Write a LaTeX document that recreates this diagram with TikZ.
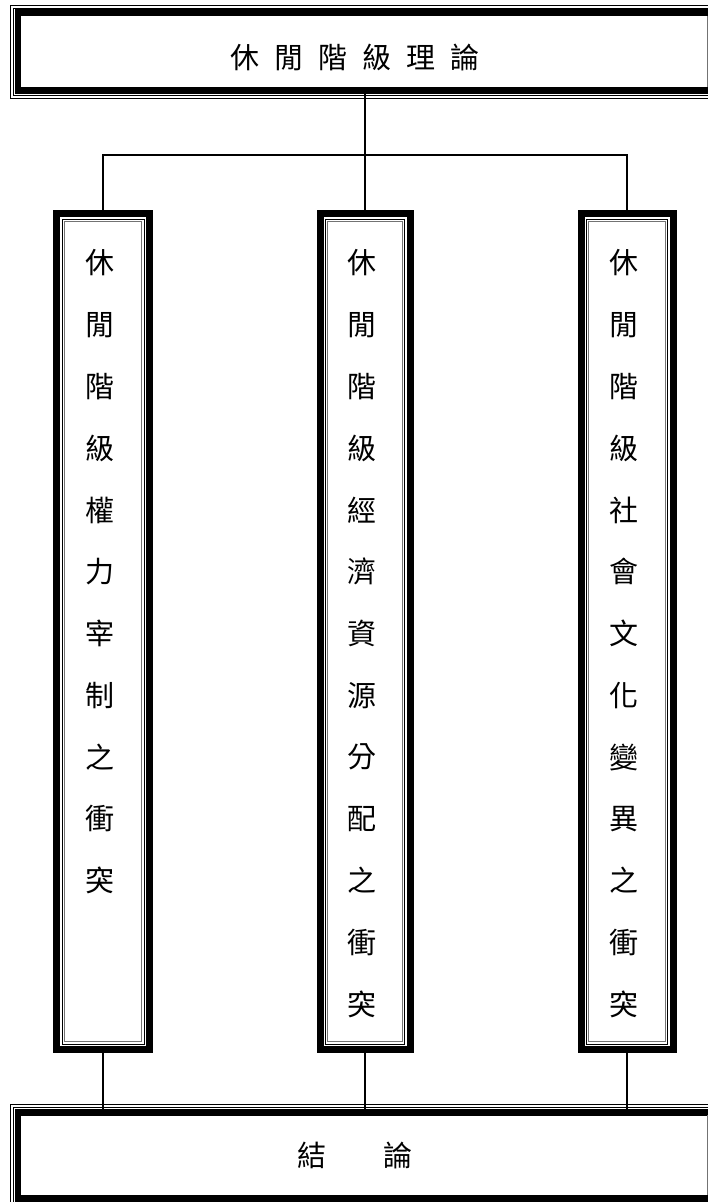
\documentclass[tikz,border=0pt]{standalone}
\usepackage{fontspec}
\newfontfamily\cjk{Noto Sans CJK TC}
\begin{document}
\begin{tikzpicture}[x=1pt,y=-1pt,
  vbox/.style={draw, line width=7pt, inner sep=0pt, outer sep=0pt},
  hbox/.style={draw, line width=6.5pt, inner sep=0pt, outer sep=0pt},
  ch/.style={font=\cjk\fontsize{29}{29}\selectfont, inner sep=0pt},
  link/.style={line width=1.3pt},
  thinb/.style={line width=1pt},
  thing/.style={line width=0.8pt, black!55}]
\useasboundingbox (0,0) rectangle (708,1202);
\begin{scope}
\clip (0,0) rectangle (708,1202);
% top box
\node[hbox, minimum width=694pt, minimum height=77.75pt] (T) at (365,51.6) {};
\draw[thinb] ([shift={(-4.7pt,4.7pt)}]T.north west) rectangle ([shift={(4.7pt,-4.7pt)}]T.south east);
\draw[thinb] ([shift={(-7.6pt,7.6pt)}]T.north west) rectangle ([shift={(7.6pt,-7.6pt)}]T.south east);
\draw[thing] (707,16) -- (707,87);
\node[ch] (Tt) at (355,57) {休\kern15pt 閒\kern15pt 階\kern15pt 級\kern15pt 理\kern15pt 論};
% bottom box
\node[hbox, minimum width=694pt, minimum height=86pt] (B) at (365,1155.3) {};
\draw[thinb] ([shift={(-4.8pt,4.8pt)}]B.north west) rectangle ([shift={(4.8pt,-4.8pt)}]B.south east);
\draw[thinb] ([shift={(-7.8pt,7.8pt)}]B.north west) rectangle ([shift={(7.8pt,-7.8pt)}]B.south east);
\draw[thing] (707,1115) -- (707,1195);
\node[ch] (Bt) at (355,1155) {結\kern57pt 論};
% vertical boxes
\node[vbox, minimum width=93pt, minimum height=836pt] (L) at (103,631.5) {};
\node[vbox, minimum width=90pt, minimum height=836pt] (C) at (365,631.5) {};
\node[vbox, minimum width=92pt, minimum height=836pt] (R) at (627,631.5) {};
\foreach \n in {L,C,R}{
  \draw[thinb] ([shift={(5.5pt,-5.5pt)}]\n.north west) rectangle ([shift={(-5.5pt,5.5pt)}]\n.south east);
  \draw[thing] ([shift={(7.7pt,-7.7pt)}]\n.north west) rectangle ([shift={(-7.7pt,7.7pt)}]\n.south east);
}
\foreach \c [count=\i from 0] in {休,閒,階,級,權,力,宰,制,之,衝,突}
  \node[ch] (L\i) at (100,263+61.75*\i) {\c};
\foreach \c [count=\i from 0] in {休,閒,階,級,經,濟,資,源,分,配,之,衝,突}
  \node[ch] (C\i) at (362,263+61.75*\i) {\c};
\foreach \c [count=\i from 0] in {休,閒,階,級,社,會,文,化,變,異,之,衝,突}
  \node[ch] (R\i) at (624,263+61.75*\i) {\c};
% connectors
\coordinate (J) at (365,155);
\draw[link] (T.south) -- (J);
\draw[link] (L.north) -- (L.north |- J) -- (R.north |- J) -- (R.north);
\draw[link] (J) -- (C.north);
\draw[link] (L.south) -- (L.south |- B.north);
\draw[link] (C.south) -- (C.south |- B.north);
\draw[link] (R.south) -- (R.south |- B.north);
\end{scope}
\end{tikzpicture}
\end{document}
